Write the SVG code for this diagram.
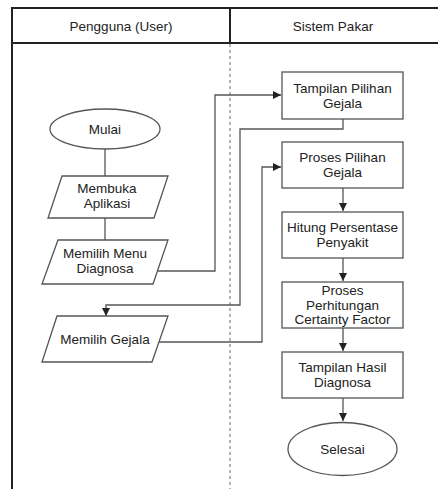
<svg xmlns="http://www.w3.org/2000/svg" width="438" height="489" viewBox="0 0 438 489">
<defs>
<marker id="ah" markerWidth="10" markerHeight="10" refX="9" refY="5" orient="auto" markerUnits="userSpaceOnUse">
<path d="M1,1 L9,5 L1,9 Z" fill="#222"/>
</marker>
<style>
.frame{fill:none;stroke:#222;stroke-width:2}
.shape{fill:#fff;stroke:#555;stroke-width:1.3}
.conn{fill:none;stroke:#555;stroke-width:1.3}
.lane{stroke:#666;stroke-width:1;stroke-dasharray:3,3}
text{font-family:"Liberation Sans",Arial,sans-serif;font-size:13.5px;fill:#222;text-anchor:middle}
</style>
</defs>
<rect width="438" height="489" fill="#fff"/>
<g id="frame">
<path class="frame" d="M12,489 L12,8 L438,8 M12,43 L438,43 M230,8 L230,43"/>
<line class="lane" x1="230" y1="44" x2="230" y2="489"/>
<text x="121" y="31">Pengguna (User)</text>
<text x="333" y="31">Sistem Pakar</text>
</g>
<g id="connectors">
<line class="conn" x1="105" y1="149" x2="105" y2="176"/>
<line class="conn" x1="105" y1="218" x2="105" y2="240"/>
<path class="conn" d="M158,271 L215,271 L215,95 L281,95" marker-end="url(#ah)"/>
<path class="conn" d="M343,119 L343,129 L240,129 L240,305 L106,305 L106,316" marker-end="url(#ah)"/>
<path class="conn" d="M158,342 L262,342 L262,167 L281,167" marker-end="url(#ah)"/>
<line class="conn" x1="343" y1="188" x2="343" y2="211" marker-end="url(#ah)"/>
<line class="conn" x1="343" y1="258" x2="343" y2="281" marker-end="url(#ah)"/>
<line class="conn" x1="343" y1="328" x2="343" y2="351" marker-end="url(#ah)"/>
<line class="conn" x1="343" y1="398" x2="343" y2="421" marker-end="url(#ah)"/>
</g>
<g id="mulai">
<ellipse class="shape" cx="105" cy="129" rx="55" ry="20"/>
<text x="105" y="134">Mulai</text>
</g>
<g id="membuka">
<polygon class="shape" points="62,176 168,176 154,218 48,218"/>
<text x="107" y="193">Membuka</text>
<text x="107" y="208">Aplikasi</text>
</g>
<g id="memilih-menu">
<polygon class="shape" points="58,240 168,240 153,284 42,284"/>
<text x="105" y="258">Memilih Menu</text>
<text x="105" y="273">Diagnosa</text>
</g>
<g id="memilih-gejala">
<polygon class="shape" points="57,316 168,316 152,362 42,362"/>
<text x="105" y="344">Memilih Gejala</text>
</g>
<g id="tampilan-pilihan">
<rect class="shape" x="282" y="72" width="121" height="47"/>
<text x="342.5" y="93">Tampilan Pilihan</text>
<text x="342.5" y="108">Gejala</text>
</g>
<g id="proses-pilihan">
<rect class="shape" x="282" y="142" width="121" height="46"/>
<text x="342.5" y="162">Proses Pilihan</text>
<text x="342.5" y="177">Gejala</text>
</g>
<g id="hitung">
<rect class="shape" x="282" y="212" width="121" height="46"/>
<text x="342.5" y="232">Hitung Persentase</text>
<text x="342.5" y="247">Penyakit</text>
</g>
<g id="proses-cf">
<rect class="shape" x="282" y="282" width="121" height="46"/>
<text x="342.5" y="295">Proses</text>
<text x="342.5" y="310">Perhitungan</text>
<text x="342.5" y="324">Certainty Factor</text>
</g>
<g id="tampilan-hasil">
<rect class="shape" x="282" y="352" width="121" height="46"/>
<text x="342.5" y="372">Tampilan Hasil</text>
<text x="342.5" y="387">Diagnosa</text>
</g>
<g id="selesai">
<ellipse class="shape" cx="342.5" cy="449" rx="54.5" ry="26.5"/>
<text x="342.5" y="454">Selesai</text>
</g>
</svg>
